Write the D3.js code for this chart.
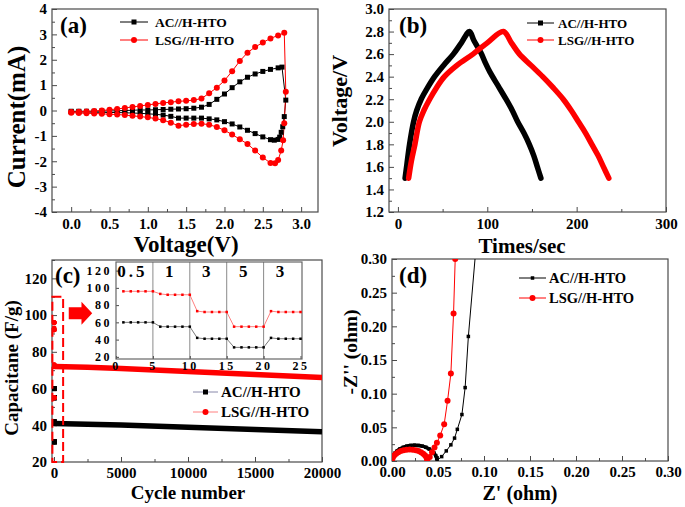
<!DOCTYPE html>
<html>
<head>
<meta charset="utf-8">
<script src="https://cdn.jsdelivr.net/npm/d3@7"></script>
<style>
  body { margin: 0; background: #fff; }
  svg text { font-family: "Liberation Serif", "Times New Roman", serif; font-weight: bold; }
</style>
</head>
<body>
<div id="chart"></div>
<script>
(function () {
  "use strict";

  // ---- data ----
  var seriesNames = ["AC//H-HTO", "LSG//H-HTO"];

  // (a) CV loops [voltage V, current mA]
  var cvAC = [[0.0,-0.03],[0.1,-0.03],[0.2,-0.03],[0.3,-0.03],[0.4,-0.02],[0.5,-0.02],[0.6,-0.01],[0.7,0.0],[0.8,0.01],[0.9,0.02],[1.0,0.02],[1.1,0.03],[1.2,0.04],[1.3,0.05],[1.4,0.06],[1.5,0.07],[1.6,0.09],[1.7,0.13],[1.8,0.24],[1.9,0.44],[2.0,0.65],[2.1,0.9],[2.2,1.13],[2.3,1.31],[2.4,1.44],[2.5,1.54],[2.6,1.62],[2.7,1.68],[2.75,1.71],
    [2.8,0.41],[2.78,-0.24],[2.76,-0.64],[2.74,-0.86],[2.72,-1.05],[2.7,-1.14],[2.65,-1.17],[2.6,-1.15],[2.5,-1.04],[2.4,-0.91],[2.3,-0.78],[2.2,-0.65],[2.1,-0.53],[2.0,-0.44],[1.9,-0.37],[1.8,-0.33],[1.7,-0.3],[1.6,-0.3],[1.5,-0.3],[1.4,-0.3],[1.3,-0.23],[1.2,-0.18],[1.1,-0.15],[1.0,-0.13],[0.9,-0.11],[0.8,-0.1],[0.7,-0.09],[0.6,-0.08],[0.5,-0.08],[0.4,-0.07],[0.3,-0.07],[0.2,-0.06],[0.1,-0.06],[0.0,-0.05]];
  var cvLSG = [[0.0,-0.06],[0.1,-0.05],[0.2,-0.04],[0.3,-0.02],[0.4,0.0],[0.5,0.03],[0.6,0.06],[0.7,0.1],[0.8,0.14],[0.9,0.18],[1.0,0.22],[1.1,0.26],[1.2,0.3],[1.3,0.33],[1.4,0.36],[1.5,0.38],[1.6,0.41],[1.7,0.47],[1.8,0.68],[1.9,0.9],[2.0,1.18],[2.1,1.55],[2.2,1.95],[2.3,2.28],[2.4,2.5],[2.5,2.68],[2.6,2.84],[2.7,2.96],[2.78,3.06],
    [2.8,0.74],[2.78,-0.5],[2.765,-1.17],[2.74,-1.58],[2.7,-1.95],[2.66,-2.08],[2.6,-2.07],[2.5,-1.85],[2.4,-1.58],[2.3,-1.32],[2.2,-1.13],[2.1,-0.95],[2.0,-0.78],[1.9,-0.65],[1.8,-0.56],[1.7,-0.52],[1.6,-0.53],[1.5,-0.56],[1.4,-0.6],[1.3,-0.48],[1.2,-0.38],[1.1,-0.32],[1.0,-0.27],[0.9,-0.24],[0.8,-0.21],[0.7,-0.18],[0.6,-0.16],[0.5,-0.15],[0.4,-0.13],[0.3,-0.12],[0.2,-0.11],[0.1,-0.1],[0.0,-0.09]];

  // (b) charge/discharge [time s, voltage V]
  var gcdAC = [[8,1.5],[10,1.62],[13,1.8],[17.5,2.0],[21,2.1],[26,2.2],[33,2.3],[41,2.4],[51,2.5],[62,2.6],[71,2.7],[80,2.8],[85,2.72],[93,2.61],[98,2.52],[103,2.44],[112,2.32],[121,2.2],[128,2.1],[134,2.0],[141,1.9],[147,1.8],[152,1.7],[156,1.6],[160,1.5]];
  var gcdLSG = [[12,1.5],[15,1.65],[19,1.8],[24,2.0],[29,2.1],[35.5,2.2],[43,2.3],[52,2.4],[66,2.5],[84,2.6],[100,2.7],[118,2.8],[127,2.7],[136,2.6],[149,2.5],[162,2.4],[174,2.3],[185,2.2],[194,2.1],[202,2.0],[210,1.9],[217,1.8],[224,1.7],[230,1.6],[236,1.5]];

  // (c) rate test, first 25 cycles, and long cycling
  var rateCycles = [1,2,3,4,5,6,7,8,9,10,11,12,13,14,15,16,17,18,19,20,21,22,23,24,25];
  var rateAC  = [60,60,60,60,60,55,55,55,55,55,42,41,41,41,41,31,31,31,31,31,42,41,41,41,41];
  var rateLSG = [96,96,96,96,96,93,92,92,92,92,73,72,72,72,72,55,55,55,55,55,73,72,72,72,72];
  var rateLabels = ["0.5", "1", "3", "5", "3"];
  var rateBreaks = [5, 10, 15, 20];
  var longCycles = [25, 2500, 5000, 10000, 15000, 20000];
  var longAC  = [41, 40.6, 40.1, 38.9, 37.7, 36.5];
  var longLSG = [72, 71.6, 70.9, 69.3, 67.6, 66];

  // (d) Nyquist [Z', -Z''], first points form the arc
  var eisAC = [[0,0],[0.0004,0.0041],[0.0015,0.008],[0.0033,0.0118],[0.0057,0.0151],[0.0087,0.018],[0.0123,0.0204],[0.0161,0.0221],[0.0202,0.0231],[0.0245,0.0235],[0.0288,0.0231],[0.0329,0.0221],[0.0368,0.0204],[0.0403,0.018],[0.0433,0.0151],[0.0457,0.0118],[0.0475,0.008],[0.0486,0.0041],[0.049,0.001],
    [0.054,0.0065],[0.059,0.015],[0.064,0.024],[0.068,0.034],[0.071,0.047],[0.076,0.069],[0.0795,0.109],[0.083,0.185],[0.0915,0.32]];
  var eisLSG = [[0,0],[0.0003,0.003],[0.0012,0.0058],[0.0026,0.0085],[0.0045,0.0109],[0.0069,0.013],[0.0096,0.0147],[0.0126,0.016],[0.0159,0.0167],[0.0192,0.017],[0.0225,0.0167],[0.0258,0.016],[0.0288,0.0147],[0.0315,0.013],[0.0339,0.0109],[0.0358,0.0085],[0.0372,0.0058],[0.0381,0.003],[0.0384,0.0005],
    [0.041,0.006],[0.0435,0.013],[0.0462,0.02],[0.0488,0.027],[0.0524,0.038],[0.0567,0.0545],[0.0604,0.0896],[0.064,0.13],[0.0669,0.219],[0.0687,0.30]];
  var eisArcPts = 19;

  var RED = "#ff0000", BLACK = "#000000", FRAME = "#4a4a4a";

  var svg = d3.select("#chart").append("svg")
    .attr("width", 685).attr("height", 507);

  var clipId = 0;

  function clip(x, y) {
    var id = "clip" + (clipId++);
    var xr = x.range(), yr = y.range();
    svg.append("clipPath").attr("id", id).append("rect")
      .attr("x", xr[0]).attr("y", yr[1])
      .attr("width", xr[1] - xr[0]).attr("height", yr[0] - yr[1]);
    return svg.append("g").attr("clip-path", "url(#" + id + ")");
  }

  function styleAxis(sel, fs, ls) {
    sel.attr("font-family", null).attr("font-size", null);
    sel.select(".domain").remove();
    sel.selectAll(".tick line").attr("stroke", FRAME).attr("stroke-width", 1);
    sel.selectAll(".tick text").attr("fill", "#000").attr("font-size", fs)
      .style("letter-spacing", ls || null);
  }

  // inward ticks, minor ticks, full frame
  function axes(x, y, o) {
    var xr = x.range(), yr = y.range();
    var g = svg.append("g");
    var fs = o.fs || 15;
    if (o.xMinor) {
      g.append("g").attr("transform", "translate(0," + yr[0] + ")")
        .call(d3.axisBottom(x).tickValues(o.xMinor).tickSize(-(o.minor || 3)).tickFormat(""))
        .call(styleAxis, fs);
    }
    if (o.yMinor) {
      g.append("g").attr("transform", "translate(" + xr[0] + ",0)")
        .call(d3.axisLeft(y).tickValues(o.yMinor).tickSize(-(o.minor || 3)).tickFormat(""))
        .call(styleAxis, fs);
    }
    g.append("g").attr("transform", "translate(0," + yr[0] + ")")
      .call(d3.axisBottom(x).tickValues(o.xTicks).tickSize(-(o.major || 5))
        .tickPadding(o.xPad || 6).tickFormat(o.xFmt))
      .call(styleAxis, fs, o.ls);
    g.append("g").attr("transform", "translate(" + xr[0] + ",0)")
      .call(d3.axisLeft(y).tickValues(o.yTicks).tickSize(-(o.major || 5))
        .tickPadding(o.yPad || 5).tickFormat(o.yFmt))
      .call(styleAxis, fs, o.ls);
    g.append("rect")
      .attr("x", xr[0]).attr("y", yr[1])
      .attr("width", xr[1] - xr[0]).attr("height", yr[0] - yr[1])
      .attr("fill", "none").attr("stroke", o.frame || FRAME).attr("stroke-width", 1.2);
    return g;
  }

  function markers(g, pts, shape, size, color) {
    if (shape === "square") {
      g.selectAll(null).data(pts).enter().append("rect")
        .attr("x", function (d) { return d[0] - size / 2; })
        .attr("y", function (d) { return d[1] - size / 2; })
        .attr("width", size).attr("height", size)
        .attr("fill", color);
    } else {
      g.selectAll(null).data(pts).enter().append("circle")
        .attr("cx", function (d) { return d[0]; })
        .attr("cy", function (d) { return d[1]; })
        .attr("r", size / 2).attr("fill", color);
    }
  }

  function legend(o) {
    var items = [
      { label: seriesNames[0], color: BLACK, shape: "square", size: o.sq, line: o.lineAC || BLACK },
      { label: seriesNames[1], color: RED, shape: "circle", size: o.ci, line: o.lineLSG || RED }
    ];
    items.forEach(function (it, i) {
      var yy = o.y + i * o.dy;
      svg.append("line").attr("x1", o.x0).attr("x2", o.x1).attr("y1", yy).attr("y2", yy)
        .attr("stroke", it.line).attr("stroke-width", 1);
      markers(svg, [[(o.x0 + o.x1) / 2 + (o.mOff || 0), yy]], it.shape, it.size, it.color);
      svg.append("text").attr("x", o.tx).attr("y", yy).attr("dy", "0.35em")
        .attr("font-size", o.fs).text(it.label);
    });
  }

  function title(txt, x, y, fs, rot) {
    svg.append("text")
      .attr("transform", "translate(" + x + "," + y + ")" + (rot ? " rotate(-90)" : ""))
      .attr("text-anchor", "middle").attr("font-size", fs).text(txt);
  }

  function tag(txt, x, y) {
    svg.append("text").attr("x", x).attr("y", y).attr("font-size", 23).text(txt);
  }

  var plain = function (d) { return String(d); };

  // ---------------- (a) CV ----------------
  (function () {
    var x = d3.scaleLinear().domain([-0.25, 3.22]).range([52, 318]);
    var y = d3.scaleLinear().domain([-4, 4]).range([212, 9]);
    axes(x, y, {
      xTicks: [0, 0.5, 1, 1.5, 2, 2.5, 3], xMinor: [0.25, 0.75, 1.25, 1.75, 2.25, 2.75],
      yTicks: d3.range(-4, 5), yMinor: [-3.5, -2.5, -1.5, -0.5, 0.5, 1.5, 2.5, 3.5],
      xFmt: d3.format(".1f"), yFmt: plain
    });
    var g = clip(x, y);
    var line = d3.line().x(function (d) { return x(d[0]); }).y(function (d) { return y(d[1]); });
    g.append("path").datum(cvAC).attr("d", line).attr("fill", "none").attr("stroke", BLACK).attr("stroke-width", 1);
    g.append("path").datum(cvLSG).attr("d", line).attr("fill", "none").attr("stroke", RED).attr("stroke-width", 1);
    markers(g, cvAC.map(function (d) { return [x(d[0]), y(d[1])]; }), "square", 5, BLACK);
    markers(g, cvLSG.map(function (d) { return [x(d[0]), y(d[1])]; }), "circle", 6, RED);
    legend({ x0: 120, x1: 148, y: 22, dy: 18, tx: 155, fs: 13.5, sq: 5, ci: 6 });
    tag("(a)", 60, 33);
    title("Current(mA)", 25, 117, 25, true);
    title("Voltage(V)", 186, 252, 23);
  })();

  // ---------------- (b) GCD ----------------
  (function () {
    var x = d3.scaleLinear().domain([-10, 300]).range([389, 666]);
    var y = d3.scaleLinear().domain([1.2, 3.0]).range([212, 9]);
    axes(x, y, {
      xTicks: [0, 100, 200, 300], xMinor: [50, 150, 250],
      yTicks: d3.range(12, 31, 2).map(function (v) { return v / 10; }),
      yMinor: d3.range(13, 30, 2).map(function (v) { return v / 10; }),
      xFmt: plain, yFmt: d3.format(".1f")
    });
    var g = clip(x, y);
    var line = d3.line().curve(d3.curveCatmullRom)
      .x(function (d) { return x(d[0]); }).y(function (d) { return y(d[1]); });
    g.append("path").datum(gcdAC).attr("d", line).attr("fill", "none").attr("stroke", BLACK)
      .attr("stroke-width", 5.5).attr("stroke-linejoin", "round").attr("stroke-linecap", "round");
    g.append("path").datum(gcdLSG).attr("d", line).attr("fill", "none").attr("stroke", RED)
      .attr("stroke-width", 5.5).attr("stroke-linejoin", "round").attr("stroke-linecap", "round");
    legend({ x0: 527, x1: 554, y: 23, dy: 17, tx: 558, fs: 13, sq: 5, ci: 6 });
    tag("(b)", 399, 33);
    title("Voltage/V", 347, 101, 22, true);
    title("Times/sec", 522, 253, 21);
  })();

  // ---------------- (c) cycling ----------------
  (function () {
    var x = d3.scaleLinear().domain([-150, 20000]).range([52, 322]);
    var y = d3.scaleLinear().domain([20, 130]).range([462, 260]);
    axes(x, y, {
      xTicks: [0, 5000, 10000, 15000, 20000], xMinor: [2500, 7500, 12500, 17500],
      yTicks: d3.range(20, 121, 20), yMinor: d3.range(30, 131, 20),
      xFmt: plain, yFmt: plain, xPad: 5
    });
    var g = clip(x, y);
    var line = d3.line().x(function (d, i) { return x(longCycles[i]); }).y(function (d) { return y(d); });
    g.append("path").datum(longLSG).attr("d", line).attr("fill", "none").attr("stroke", RED).attr("stroke-width", 5.5);
    g.append("path").datum(longAC).attr("d", line).attr("fill", "none").attr("stroke", BLACK).attr("stroke-width", 5.5);
    markers(g, rateAC.map(function (d, i) { return [x(rateCycles[i]), y(d)]; }), "square", 5, BLACK);
    markers(g, rateLSG.map(function (d, i) { return [x(rateCycles[i]), y(d)]; }), "circle", 5, RED);

    // dashed box around the first cycles and arrow towards the inset
    svg.append("rect")
      .attr("x", x(-120)).attr("y", y(110))
      .attr("width", x(680) - x(-120)).attr("height", y(20) - y(110))
      .attr("fill", "none").attr("stroke", RED).attr("stroke-width", 2).attr("stroke-dasharray", "9,4");
    var ax0 = x(1100), ax1 = x(2850), ay = y(101), axm = x(2050);
    svg.append("path")
      .attr("d", "M" + ax0 + "," + (ay - 6) + "H" + axm + "V" + (ay - 11.5) + "L" + ax1 + "," + ay +
        "L" + axm + "," + (ay + 11.5) + "V" + (ay + 6) + "H" + ax0 + "Z")
      .attr("fill", RED);

    legend({ x0: 193, x1: 218, y: 392, dy: 20, tx: 221, fs: 15, sq: 5, ci: 6, lineAC: "#8888aa", lineLSG: "#ff8080" });
    tag("(c)", 55, 283);
    title("Capacitane (F/g)", 18, 368, 19, true);
    title("Cycle number", 188, 499, 19);

    // inset
    var xi = d3.scaleLinear().domain([0, 25.2]).range([116, 302]);
    var yi = d3.scaleLinear().domain([17.5, 130]).range([359, 262]);
    svg.append("rect").attr("x", 116).attr("y", 262).attr("width", 186).attr("height", 97).attr("fill", "#fff");
    svg.selectAll(null).data(rateBreaks).enter().append("line")
      .attr("x1", function (d) { return xi(d); }).attr("x2", function (d) { return xi(d); })
      .attr("y1", yi.range()[0]).attr("y2", yi.range()[1])
      .attr("stroke", "#8a8a8a").attr("stroke-width", 1);
    axes(xi, yi, {
      xTicks: [0, 5, 10, 15, 20, 25], yTicks: d3.range(20, 121, 20),
      xFmt: plain, yFmt: plain, fs: 12, ls: "2.5px", xPad: 2, yPad: 4, major: 3, frame: "#666"
    });
    var li = d3.line().x(function (d, i) { return xi(rateCycles[i]); }).y(function (d) { return yi(d); });
    svg.append("path").datum(rateLSG).attr("d", li).attr("fill", "none").attr("stroke", "#ff6060").attr("stroke-width", 0.8);
    svg.append("path").datum(rateAC).attr("d", li).attr("fill", "none").attr("stroke", "#555").attr("stroke-width", 0.8);
    markers(svg, rateLSG.map(function (d, i) { return [xi(rateCycles[i]), yi(d)]; }), "square", 2.5, RED);
    markers(svg, rateAC.map(function (d, i) { return [xi(rateCycles[i]), yi(d)]; }), "square", 2.5, BLACK);
    var sections = [0].concat(rateBreaks).concat([25]);
    svg.selectAll(null).data(rateLabels).enter().append("text")
      .attr("x", function (d, i) { return xi((sections[i] + sections[i + 1]) / 2) - 2; })
      .attr("y", 277).attr("text-anchor", "middle").attr("font-size", 17)
      .style("letter-spacing", function (d) { return d.length > 1 ? "3px" : null; })
      .text(function (d) { return d; });
  })();

  // ---------------- (d) Nyquist ----------------
  (function () {
    var x = d3.scaleLinear().domain([0, 0.30]).range([392, 668]);
    var y = d3.scaleLinear().domain([0, 0.30]).range([461, 259]);
    var t = d3.range(0, 7).map(function (v) { return v * 0.05; });
    var tm = d3.range(0, 6).map(function (v) { return v * 0.05 + 0.025; });
    axes(x, y, {
      xTicks: t, xMinor: tm, yTicks: t, yMinor: tm,
      xFmt: d3.format(".2f"), yFmt: d3.format(".2f"), xPad: 5
    });
    var g = clip(x, y);
    var line = d3.line().x(function (d) { return x(d[0]); }).y(function (d) { return y(d[1]); });
    [[eisAC, BLACK, "square", 3.5], [eisLSG, RED, "circle", 6]].forEach(function (s) {
      g.append("path").datum(s[0]).attr("d", line).attr("fill", "none").attr("stroke", s[1]).attr("stroke-width", 1);
      g.append("path").datum(s[0].slice(0, eisArcPts)).attr("d", line.curve(d3.curveCatmullRom))
        .attr("fill", "none").attr("stroke", s[1]).attr("stroke-width", 3.5);
      line.curve(d3.curveLinear);
      markers(g, s[0].map(function (d) { return [x(d[0]), y(d[1])]; }), s[2], s[3], s[1]);
    });
    legend({ x0: 519, x1: 546, y: 278, dy: 20, tx: 549, fs: 14.5, sq: 3.5, ci: 6 });
    tag("(d)", 399, 283);
    title("-Z'' (ohm)", 357, 352, 19.5, true);
    title("Z' (ohm)", 520, 500, 20);
  })();
})();
</script>
</body>
</html>
